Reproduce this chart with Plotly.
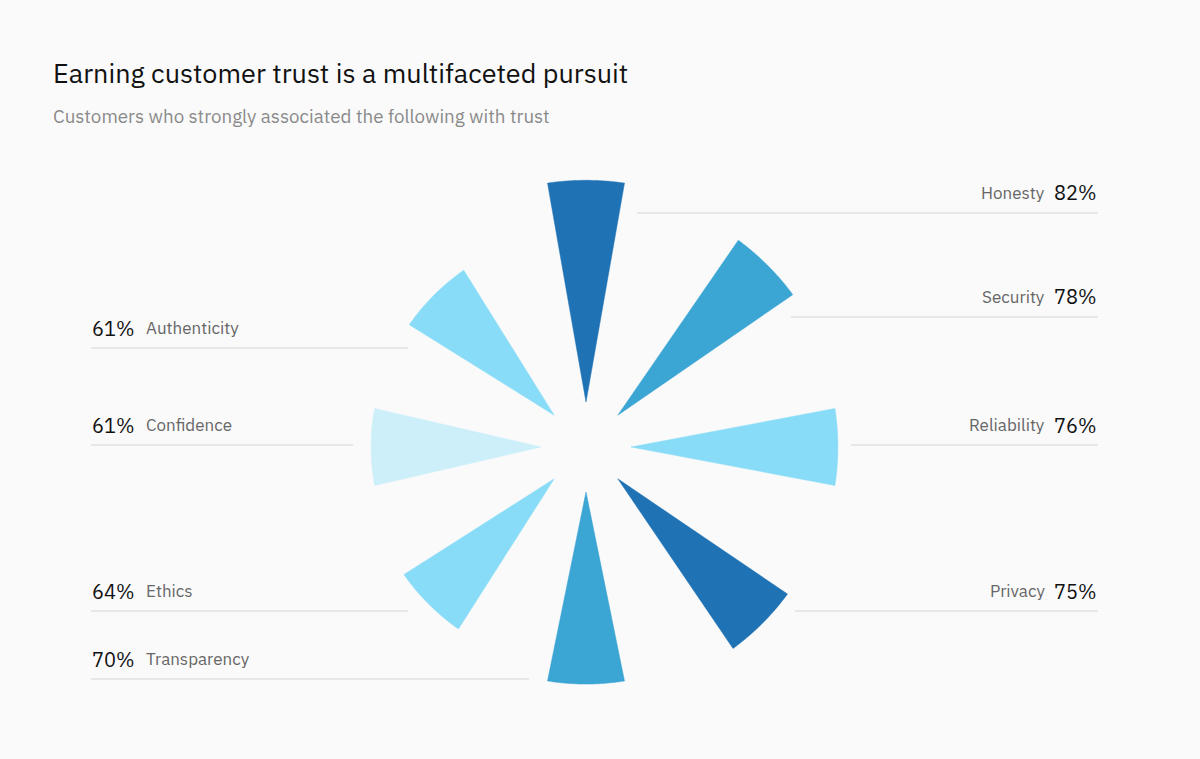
import numpy as np
import plotly.graph_objects as go

# ---- data ----
categories = ["Honesty", "Security", "Reliability", "Privacy",
              "Transparency", "Ethics", "Confidence", "Authenticity"]
values = [82, 78, 76, 75, 70, 64, 61, 61]
angles = [90, 45, 0, 315, 270, 225, 180, 135]
colors = ["#1f72b4", "#3ba5d4", "#88dcf7", "#1f72b4",
          "#3ba5d4", "#88dcf7", "#cdeffa", "#88dcf7"]
label_side = ["right", "right", "right", "right", "left", "left", "left", "left"]

# ---- layout constants (pixels) ----
W, H = 1200, 759
CX, CY = 586, 447          # centre of the radial chart
RPX = 280                  # radius of the polar area in px
RMIN, RMAX = -26.1, 87.4   # radial axis range
K = RPX / (RMAX - RMIN)    # px per unit
APEX_PX = 45               # wedges' pointed tip distance from centre
HALF_CHORD = 38.5          # half width of each wedge's outer edge, px
apex_r = RMIN + APEX_PX / K

# leader line y (px) and inner end x (px) per category
line_y = [213, 317, 445, 611, 679, 611, 445, 348]
line_inner_x = [637, 791, 851, 795, 529, 408, 353, 408]
RIGHT_X, LEFT_X = 1098, 91

FONT = "IBM Plex Sans, Inter, Roboto, sans-serif"
BG = "#fafafa"

fig = go.Figure()

for cat, v, a, c in zip(categories, values, angles, colors):
    r_px = (v - RMIN) * K
    half = np.degrees(np.arcsin(HALF_CHORD / r_px))
    arc = np.linspace(a - half, a + half, 60)
    theta = [a] + list(arc) + [a]
    r = [apex_r] + [v] * len(arc) + [apex_r]
    fig.add_trace(go.Scatterpolar(
        r=r, theta=theta, mode="lines", fill="toself",
        fillcolor=c, line=dict(color=c, width=0.5),
        name=cat, hoverinfo="skip", showlegend=False,
    ))

annotations = []
shapes = []


def px_x(x):
    return x / W


def px_y(y):
    return 1 - y / H


annotations.append(dict(
    text="Earning customer trust is a multifaceted pursuit",
    x=px_x(51), y=px_y(73), xref="paper", yref="paper",
    xanchor="left", yanchor="middle", showarrow=False,
    font=dict(family=FONT, size=27, color="#111111"),
))
annotations.append(dict(
    text="Customers who strongly associated the following with trust",
    x=px_x(51), y=px_y(116), xref="paper", yref="paper",
    xanchor="left", yanchor="middle", showarrow=False,
    font=dict(family=FONT, size=18.8, color="#8a8a8a"),
))

for cat, v, side, ly, lx in zip(categories, values, label_side, line_y, line_inner_x):
    ty = ly - 20
    if side == "right":
        annotations.append(dict(
            text=f"{v}%", x=px_x(RIGHT_X + 1), y=px_y(ty), xref="paper", yref="paper",
            xanchor="right", yanchor="middle", showarrow=False,
            font=dict(family=FONT, size=20, color="#111111"),
        ))
        annotations.append(dict(
            text=cat, x=px_x(1047), y=px_y(ty), xref="paper", yref="paper",
            xanchor="right", yanchor="middle", showarrow=False,
            font=dict(family=FONT, size=17, color="#666666"),
        ))
        x0, x1 = lx, RIGHT_X
    else:
        annotations.append(dict(
            text=f"{v}%", x=px_x(LEFT_X - 1), y=px_y(ty), xref="paper", yref="paper",
            xanchor="left", yanchor="middle", showarrow=False,
            font=dict(family=FONT, size=20, color="#111111"),
        ))
        annotations.append(dict(
            text=cat, x=px_x(144), y=px_y(ty), xref="paper", yref="paper",
            xanchor="left", yanchor="middle", showarrow=False,
            font=dict(family=FONT, size=17, color="#666666"),
        ))
        x0, x1 = LEFT_X, lx
    shapes.append(dict(
        type="line", xref="paper", yref="paper",
        x0=px_x(x0), x1=px_x(x1), y0=px_y(ly), y1=px_y(ly),
        line=dict(color="#d4d4d4", width=1),
    ))

fig.update_layout(
    width=W, height=H,
    margin=dict(l=0, r=0, t=0, b=0),
    paper_bgcolor=BG, plot_bgcolor=BG,
    showlegend=False,
    polar=dict(
        domain=dict(x=[(CX - RPX) / W, (CX + RPX) / W],
                    y=[(H - CY - RPX) / H, (H - CY + RPX) / H]),
        bgcolor="rgba(0,0,0,0)",
        radialaxis=dict(range=[RMIN, RMAX], visible=False, showgrid=False,
                        showline=False, showticklabels=False, ticks=""),
        angularaxis=dict(visible=False, showgrid=False, showline=False,
                         showticklabels=False, ticks="", rotation=0,
                         direction="counterclockwise"),
    ),
    annotations=annotations,
    shapes=shapes,
)

fig.write_html(
    "out.html",
    config={"displayModeBar": False},
    post_script="document.body.style.margin='0';document.body.style.background='#fafafa';",
)
